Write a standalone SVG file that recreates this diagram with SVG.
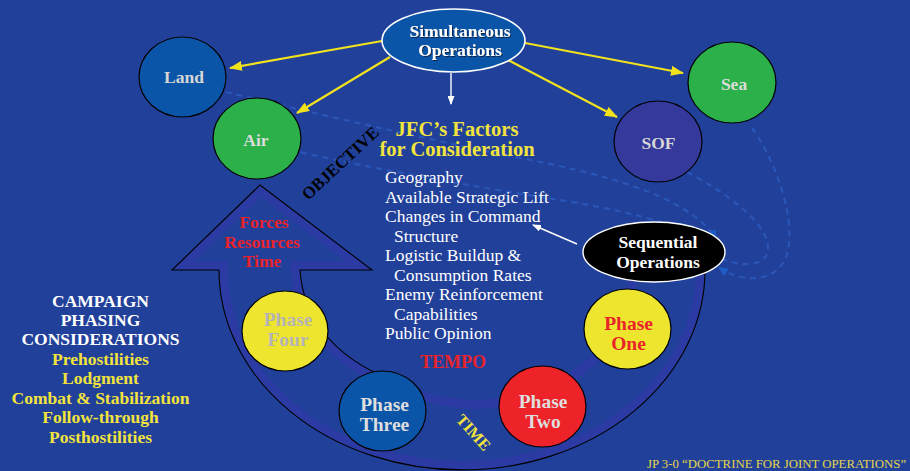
<svg xmlns="http://www.w3.org/2000/svg" width="910" height="471" viewBox="0 0 910 471">
  <defs>
    <style>
      .lbl { font-family: "Liberation Serif", "Times New Roman", serif; font-weight: bold; text-anchor: middle; }
      .big { font-size: 17.5px; }
      .ph { font-size: 19.5px; }
      .list { font-family: "Liberation Serif", "Times New Roman", serif; font-size: 17.5px; fill: #ffffff; }
      .node { stroke: #000000; stroke-width: 1.2; }
      .sh { filter: url(#drop); }
      .yl { stroke: #f2e21e; stroke-width: 2.2; fill: none; }
      .wl { stroke: #ffffff; stroke-width: 1.4; fill: none; }
      .dash { stroke: #2a56b8; stroke-width: 2.2; fill: none; stroke-dasharray: 6 5; }
    </style>
    <filter id="drop" x="-10%" y="-30%" width="120%" height="160%">
      <feDropShadow dx="1" dy="1" stdDeviation="0.4" flood-color="#0a1a40" flood-opacity="0.9"/>
    </filter>
    <marker id="ya" markerUnits="userSpaceOnUse" markerWidth="13" markerHeight="10" refX="12" refY="5" orient="auto">
      <path d="M0,0 L13,5 L0,10 z" fill="#f2e21e"/>
    </marker>
    <marker id="wa" markerUnits="userSpaceOnUse" markerWidth="9" markerHeight="7" refX="8" refY="3.5" orient="auto">
      <path d="M0,0 L9,3.5 L0,7 z" fill="#ffffff"/>
    </marker>
    <marker id="ba" markerUnits="userSpaceOnUse" markerWidth="10" markerHeight="9" refX="8" refY="4.5" orient="auto">
      <path d="M0,0 L10,4.5 L0,9 z" fill="#1d5cc4"/>
    </marker>
    <!-- arrow + U-shaped time band -->
    <path id="bandShape" d="M260,185 L372,270 L300,270 C303,315 330,352 380,375 C410,390 440,398 470,400 C540,400 625,360 628,276 L628,262 L705,262 L705,270 A243,200 0 0 1 219,270 L172,270 Z"/>
    <clipPath id="bandClip">
      <use href="#bandShape"/>
    </clipPath>
  </defs>

  <!-- background -->
  <rect x="0" y="0" width="910" height="471" fill="#21409a"/>

  <!-- dotted flow lines into the sequential operations node -->
  <g id="flows">
    <path class="dash" d="M226,92 C300,110 420,138 540,162 C620,178 690,200 716,238" marker-end="url(#ba)"/>
    <path class="dash" d="M290,150 C380,170 470,186 560,200 C640,213 700,230 720,252" marker-end="url(#ba)"/>
    <path class="dash" d="M687,172 C730,195 770,225 768,250 C765,268 740,266 722,259"/>
    <path class="dash" d="M752,128 C775,160 795,215 788,250 C782,282 745,285 720,268" marker-end="url(#ba)"/>
  </g>

  <!-- time band with arrow -->
  <g id="timeBand">
    <use href="#bandShape" fill="#21409a"/>
    <use href="#bandShape" fill="none" stroke="#2c3aa4" stroke-width="18" clip-path="url(#bandClip)"/>
    <path d="M219,270 L172,270 L260,185 L372,270 L300,270 C303,315 330,352 380,375 C395,383 405,387 415,391" fill="none" stroke="#000000" stroke-width="1.1"/>
    <path d="M705,270 A243,200 0 0 1 219,270" fill="none" stroke="#000000" stroke-width="1.1"/>
  </g>

  <!-- connectors -->
  <g id="connectors">
    <line class="yl" x1="382" y1="41" x2="230" y2="68" marker-end="url(#ya)"/>
    <line class="yl" x1="390" y1="57" x2="297" y2="113" marker-end="url(#ya)"/>
    <line class="yl" x1="525" y1="43" x2="683" y2="73" marker-end="url(#ya)"/>
    <line class="yl" x1="508" y1="60" x2="617" y2="117" marker-end="url(#ya)"/>
    <line class="wl" x1="451" y1="73" x2="451" y2="104" marker-end="url(#wa)"/>
    <line class="wl" x1="577" y1="244" x2="533" y2="225" marker-end="url(#wa)"/>
  </g>

  <!-- top node -->
  <g id="simultaneous">
    <ellipse cx="453.5" cy="40.5" rx="71.5" ry="31.5" fill="#0b55a8" stroke="#ffffff" stroke-width="1.6"/>
    <text class="lbl big sh" x="460" y="37" fill="#ffffff">Simultaneous</text>
    <text class="lbl big sh" x="460" y="56" fill="#ffffff">Operations</text>
  </g>

  <g id="land">
    <ellipse class="node" cx="182.5" cy="77" rx="43.5" ry="40" fill="#0b55a8"/>
    <text class="lbl big" x="184" y="83" fill="#d6d6d6">Land</text>
  </g>
  <g id="air">
    <ellipse class="node" cx="257" cy="138.5" rx="44" ry="40.5" fill="#2cb04a"/>
    <text class="lbl big" x="256" y="146" fill="#dcdcdc">Air</text>
  </g>
  <g id="sea">
    <ellipse class="node" cx="732" cy="82.5" rx="44" ry="40.5" fill="#2cb04a"/>
    <text class="lbl big" x="734" y="90" fill="#dcdcdc">Sea</text>
  </g>
  <g id="sof">
    <ellipse class="node" cx="658" cy="141.5" rx="44" ry="40.5" fill="#35399b"/>
    <text class="lbl big" x="658.5" y="149" fill="#d6d6d6">SOF</text>
  </g>

  <g id="sequential">
    <ellipse cx="654" cy="252" rx="71" ry="30" fill="#000000" stroke="#ffffff" stroke-width="1.4"/>
    <text class="lbl big" x="658" y="248" fill="#ffffff">Sequential</text>
    <text class="lbl big" x="658" y="268" fill="#ffffff">Operations</text>
  </g>

  <!-- factors -->
  <g id="factors">
    <text class="lbl" x="457" y="136" font-size="20.5" fill="#f2e43c">JFC’s Factors</text>
    <text class="lbl" x="457" y="156" font-size="20.5" fill="#f2e43c">for Consideration</text>
    <text class="list" x="385" y="183">Geography</text>
    <text class="list" x="385" y="202.5">Available Strategic Lift</text>
    <text class="list" x="385" y="222">Changes in Command</text>
    <text class="list" x="394" y="241.5">Structure</text>
    <text class="list" x="385" y="261">Logistic Buildup &amp;</text>
    <text class="list" x="394" y="280.5">Consumption Rates</text>
    <text class="list" x="385" y="300">Enemy Reinforcement</text>
    <text class="list" x="394" y="319.5">Capabilities</text>
    <text class="list" x="385" y="339">Public Opinion</text>
  </g>

  <!-- band labels -->
  <g id="bandLabels">
    <text class="lbl" x="340" y="169" font-size="17" fill="#000000" transform="rotate(-43 340 163)">OBJECTIVE</text>
    <text class="lbl big" x="264" y="228" fill="#e8232a">Forces</text>
    <text class="lbl big" x="262" y="248" fill="#e8232a">Resources</text>
    <text class="lbl big" x="262" y="267" fill="#e8232a">Time</text>
    <text class="lbl" x="453" y="368" font-size="18" fill="#e8232a">TEMPO</text>
    <text class="lbl" x="474" y="438" font-size="16" fill="#f2e43c" transform="rotate(48 474 432)">TIME</text>
  </g>

  <!-- phases -->
  <g id="phase1">
    <ellipse class="node" cx="627.5" cy="329" rx="43.5" ry="40" fill="#eee52e"/>
    <text class="lbl ph" x="628.5" y="329.5" fill="#e8232a">Phase</text>
    <text class="lbl ph" x="628.5" y="350" fill="#e8232a">One</text>
  </g>
  <g id="phase2">
    <ellipse class="node" cx="542.5" cy="406.5" rx="43.5" ry="40.5" fill="#ee2229"/>
    <text class="lbl ph" x="543" y="407.5" fill="#dedede">Phase</text>
    <text class="lbl ph" x="543" y="427.5" fill="#dedede">Two</text>
  </g>
  <g id="phase3">
    <ellipse class="node" cx="382.5" cy="411" rx="43.5" ry="40" fill="#0b55a8"/>
    <text class="lbl ph" x="384.5" y="411" fill="#dedede">Phase</text>
    <text class="lbl ph" x="384.5" y="431" fill="#dedede">Three</text>
  </g>
  <g id="phase4">
    <ellipse class="node" cx="285" cy="331" rx="43" ry="40" fill="#eee52e"/>
    <text class="lbl ph" x="288" y="325.5" fill="#b4b4b4">Phase</text>
    <text class="lbl ph" x="288" y="345.5" fill="#b4b4b4">Four</text>
  </g>

  <!-- campaign phasing list -->
  <g id="campaign">
    <text class="lbl big" x="100.5" y="306.5" fill="#ffffff">CAMPAIGN</text>
    <text class="lbl big" x="100.5" y="325.5" fill="#ffffff">PHASING</text>
    <text class="lbl big" x="100.5" y="345" fill="#ffffff">CONSIDERATIONS</text>
    <text class="lbl big" x="100.5" y="364.5" fill="#f2e43c">Prehostilities</text>
    <text class="lbl big" x="100.5" y="384" fill="#f2e43c">Lodgment</text>
    <text class="lbl big" x="100.5" y="403.5" fill="#f2e43c">Combat &amp; Stabilization</text>
    <text class="lbl big" x="100.5" y="423" fill="#f2e43c">Follow-through</text>
    <text class="lbl big" x="100.5" y="442.5" fill="#f2e43c">Posthostilities</text>
  </g>

  <text x="647" y="468" font-family="Liberation Serif, Times New Roman, serif" font-size="12.8" fill="#e3d64a">JP 3-0 “DOCTRINE FOR JOINT OPERATIONS”</text>
</svg>
